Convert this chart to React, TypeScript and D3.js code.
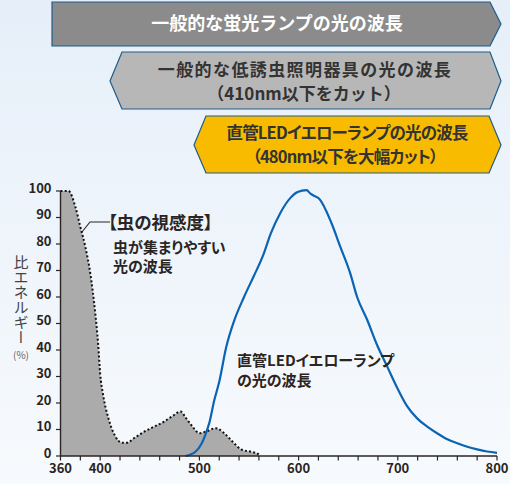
import { scaleLinear, area as d3Area, line as d3Line, curveMonotoneX, range } from "d3";

// insect sensitivity (gray area, dotted outline)
const insectNm = [360, 368, 375, 380, 385, 390, 395, 398, 400, 403, 408.5, 415, 422, 427, 434, 444.5, 454.5, 464.5, 473, 481, 486.5, 493, 500, 506.5, 516.5, 525, 533.5, 542, 552, 559, 561];
const insectVal = [100, 100, 94, 86.5, 79, 69, 54, 42, 31, 23, 14, 7.6, 5, 5, 6.7, 9.2, 11.1, 13, 15.1, 16.8, 14.3, 11.1, 8.6, 9.2, 10.5, 8.6, 5.4, 2.5, 1.6, 0.8, 0];

// LED yellow lamp spectrum (blue line)
const ledNm = [486, 496, 502, 506, 510, 515, 520, 527, 535, 545, 555, 564, 572, 582, 592, 599, 608, 612, 615, 621, 633, 642, 652, 659, 669, 679, 689, 699, 709, 720, 730, 740, 750, 760, 770, 780, 790, 800];
const ledVal = [0, 1.6, 4.5, 8, 12.5, 21, 28, 41, 51, 60, 68, 75.5, 84, 92, 97.5, 99.6, 100.3, 99, 98.3, 97, 88, 79, 69, 60, 51.5, 42, 34, 26, 19, 14, 11, 8.5, 6.3, 4.8, 3.5, 2.5, 1.7, 1.2];

const yTickValues = [0, 10, 20, 30, 40, 50, 60, 70, 80, 90, 100];
const xTickValues = range(360, 801, 20);
const xLabelValues = [360, 400, 500, 600, 700, 800];

const banner1 = "一般的な蛍光ランプの光の波長";
const banner2 = ["一般的な低誘虫照明器具の光の波長", "（410nm以下をカット）"];
const banner3 = ["直管LEDイエローランプの光の波長", "（480nm以下を大幅カット）"];
const insectLabel = ["【虫の視感度】", "虫が集まりやすい", "光の波長"];
const ledLabel = ["直管LEDイエローランプ", "の光の波長"];
const yTitle = "比エネルギー";

const FONT = "'Noto Sans CJK JP', 'Noto Sans', sans-serif";
const INK = "#2a2522";
const palt = { fontFeatureSettings: '"palt"' };

export default function App() {
  const x = scaleLinear().domain([360, 800]).range([60.5, 497]);
  const y = scaleLinear().domain([0, 100]).range([456, 191]);

  const insect = insectNm.map((n, i) => ({ n, v: insectVal[i] }));
  const led = ledNm.map((n, i) => ({ n, v: ledVal[i] }));

  const areaGen = d3Area<{ n: number; v: number }>()
    .x((d) => x(d.n))
    .y0(y(0))
    .y1((d) => y(d.v))
    .curve(curveMonotoneX);
  const lineGen = d3Line<{ n: number; v: number }>()
    .x((d) => x(d.n))
    .y((d) => y(d.v))
    .curve(curveMonotoneX);

  return (
    <svg
      width={510}
      height={484}
      style={{ position: "absolute", left: 0, top: 0, fontFamily: FONT }}
    >
      <defs>
        <linearGradient id="bg" x1="0" y1="0" x2="0" y2="1">
          <stop offset="0" stopColor="#e6eff9" />
          <stop offset="1" stopColor="#f7fafd" />
        </linearGradient>
      </defs>
      <rect width={510} height={484} fill="url(#bg)" />

      {/* banners */}
      <polygon
        points="52,2 490,2 501,24 490,46 52,46"
        fill="#8b8b8b"
        stroke="#1d5d8c"
        strokeWidth={1.2}
      />
      <text x={277} y={30} textAnchor="middle" fill="#fff" fontSize={18} fontWeight={700}>
        {banner1}
      </text>

      <polygon
        points="110,81 122,52 490,52 501,81 490,109 122,109"
        fill="#b7b7b7"
        stroke="#1d5d8c"
        strokeWidth={1.2}
      />
      <text x={305} y={76} textAnchor="middle" fill="#333" fontSize={17} fontWeight={700} letterSpacing={1.4}>
        {banner2[0]}
      </text>
      <text x={304} y={99.5} textAnchor="middle" fill="#333" fontSize={17} fontWeight={700}>
        {banner2[1]}
      </text>

      <polygon
        points="194,145 206,116 489,116 501,145 489,173 206,173"
        fill="#f8bb00"
        stroke="#1d5d8c"
        strokeWidth={1.2}
      />
      <text
        x={347}
        y={139}
        textAnchor="middle"
        fill="#333"
        fontSize={16.5}
        fontWeight={700}
        letterSpacing={-0.8}
        style={palt}
      >
        {banner3[0]}
      </text>
      <text
        x={345}
        y={162.5}
        textAnchor="middle"
        fill="#333"
        fontSize={16.5}
        fontWeight={700}
        letterSpacing={-0.8}
        style={palt}
      >
        {banner3[1]}
      </text>

      {/* insect sensitivity */}
      <path d={areaGen(insect) ?? ""} fill="#ababab" />
      <path
        d={lineGen(insect) ?? ""}
        fill="none"
        stroke="#111"
        strokeWidth={2}
        strokeDasharray="2 2.2"
      />

      {/* LED */}
      <path d={lineGen(led) ?? ""} fill="none" stroke="#0a64b4" strokeWidth={2.2} />

      {/* axes */}
      <line x1={x(360)} x2={x(360)} y1={y(0)} y2={y(100)} stroke={INK} strokeWidth={1.4} />
      <line x1={x(360)} x2={x(800)} y1={y(0)} y2={y(0)} stroke={INK} strokeWidth={1.6} />
      {yTickValues.map((t) => (
        <g key={`y-${t}`} transform={`translate(${x(360)},${y(t)})`}>
          <line x1={-4.5} x2={0} stroke={INK} strokeWidth={1.2} />
          <text x={-9} y={1.5} textAnchor="end" fontSize={13} fontWeight={700} fill={INK}>
            {t}
          </text>
        </g>
      ))}
      {xTickValues.map((t) => (
        <line
          key={`x-${t}`}
          x1={x(t)}
          x2={x(t)}
          y1={y(0)}
          y2={y(0) + 4.5}
          stroke={INK}
          strokeWidth={1.2}
        />
      ))}
      {xLabelValues.map((t) => (
        <text
          key={`xl-${t}`}
          x={x(t)}
          y={473}
          textAnchor="middle"
          fontSize={13}
          fontWeight={700}
          fill={INK}
        >
          {t}
        </text>
      ))}

      {/* y title */}
      <text
        x={21}
        y={255}
        fontSize={15}
        fill="#444"
        style={{ writingMode: "vertical-rl", textOrientation: "upright" }}
      >
        {yTitle}
      </text>
      <text x={21} y={359} textAnchor="middle" fontSize={10} fill="#666">
        (%)
      </text>

      {/* insect label */}
      <polyline points="82,232 90,222 110,222" fill="none" stroke={INK} strokeWidth={1.1} />
      <text x={108} y={229} fontSize={17.5} fontWeight={700} fill={INK} style={palt}>
        {insectLabel[0]}
      </text>
      <text x={113} y={253} fontSize={15} fontWeight={700} fill={INK} style={palt}>
        {insectLabel[1]}
      </text>
      <text x={113} y={272} fontSize={15} fontWeight={700} fill={INK} style={palt}>
        {insectLabel[2]}
      </text>

      {/* LED label */}
      <text x={237} y={366} fontSize={15} fontWeight={700} fill={INK} style={palt}>
        {ledLabel[0]}
      </text>
      <text x={237} y={386} fontSize={15} fontWeight={700} fill={INK} style={palt}>
        {ledLabel[1]}
      </text>
    </svg>
  );
}
